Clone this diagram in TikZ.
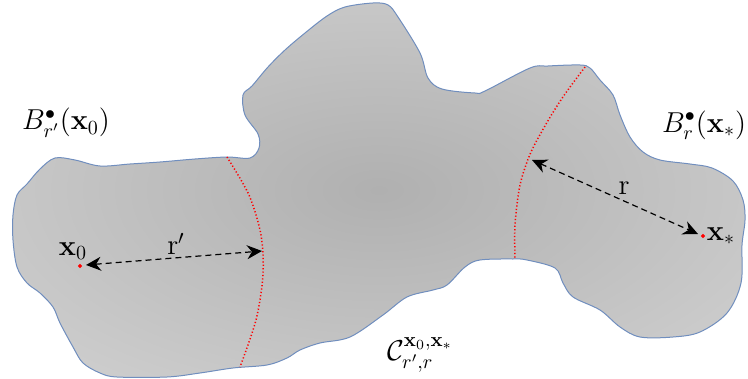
\documentclass[tikz,border=0pt]{standalone}
\usepackage{amsmath}
\usetikzlibrary{arrows.meta}
\definecolor{rimblue}{RGB}{112,142,190}
\pgfdeclareradialshading{blobshade}{\pgfpoint{0bp}{0bp}}{color(0bp)=(black!31); color(50bp)=(black!13)}
\begin{document}
\begin{tikzpicture}[x=0.5pt, y=-0.5pt,
  rim/.style={draw=rimblue, line width=0.5pt, shading=blobshade},
  cut/.style={red, line width=0.75pt, dash pattern=on 0.6pt off 1.1pt},
  reach/.style={dash pattern=on 3pt off 2pt, line width=0.6pt, {Stealth[length=7.5pt,width=7pt]}-{Stealth[length=7.5pt,width=7pt]}}]
\useasboundingbox (0,0) rectangle (748,379);
\path[rim] plot[smooth cycle, tension=0.55] coordinates {
  (13,215) (17,195) (27,184) (40,169) (55,158) (75,160) (100,166) (130,164) (160,162)
  (195,159) (227,157) (250,158) (259,148) (258,134) (245,115) (243,95) (252,86)
  (268,67) (285,50) (305,33) (327,16) (345,7) (373,3) (388,5) (398,17) (420,53)
  (428,78) (442,89) (475,93) (485,91) (530,68) (548,66) (580,65) (590,68) (600,80)
  (613,95) (620,115) (630,137) (643,152) (660,160) (690,164) (712,168) (733,181)
  (743,200) (745,220) (742,245) (741,283) (727,313) (700,332) (673,337) (640,337)
  (620,327) (600,310) (573,297) (563,283) (555,268) (527,260) (513,259) (480,260)
  (465,267) (447,285) (433,290) (407,297) (383,315) (350,337) (320,343) (300,350)
  (287,358) (267,365) (233,368) (200,373) (167,377) (117,377) (100,373) (83,363)
  (73,347) (60,323) (53,307) (40,293) (27,283) (17,267) (13,240)};
\draw[cut] plot[smooth] coordinates {(227,157) (249,195) (261,235) (263,275) (256,320) (240,367)};
\draw[cut] plot[smooth] coordinates {(585,67) (565,94) (549,119) (531,152) (520,185) (515,225) (515,259)};
\coordinate (x0) at (80,266);
\coordinate (xs) at (703,236);
\coordinate (a0) at (86,265);
\coordinate (a1) at (262,251);
\coordinate (b0) at (532,160);
\coordinate (b1) at (698,234);
\draw[reach] (a0) -- (a1);
\draw[reach] (b0) -- (b1);
\filldraw[red] (x0) circle (1.6);
\filldraw[red] (xs) circle (1.6);
\node (lx0) at (73,251) {\Large$\mathbf{x}_0$};
\node (lxs) at (721,236) {\Large$\mathbf{x}_*$};
\node (lr0) at (176,244) {\Large\textrm{r}$'$};
\node (lr1) at (624,188) {\Large\textrm{r}};
\node (ball0) at (66,123) {\Large$B^{\bullet}_{r'}(\mathbf{x}_0)$};
\node (ball1) at (704,125) {\Large$B^{\bullet}_{r}(\mathbf{x}_*)$};
\node (corr) at (420,355) {\Large$\mathcal{C}^{\mathbf{x}_0,\mathbf{x}_*}_{r',r}$};
\end{tikzpicture}
\end{document}
